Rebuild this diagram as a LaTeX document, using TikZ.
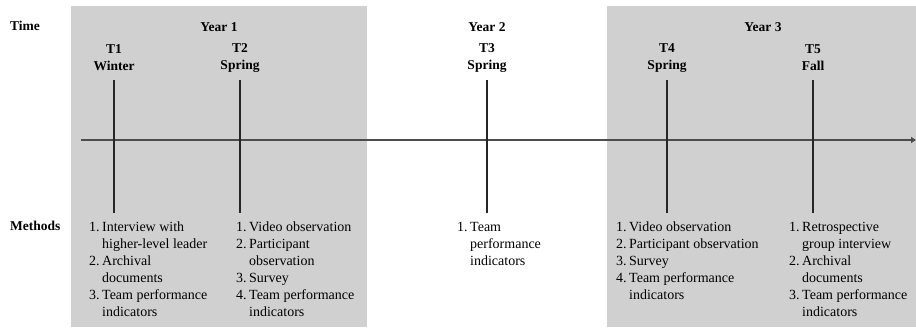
\documentclass[tikz,border=0pt]{standalone}
\usepackage{fontspec}
\setmainfont{Liberation Serif}
\usetikzlibrary{arrows.meta}
\begin{document}
\begin{tikzpicture}[x=1pt,y=-1pt,
  yearbox/.style={fill=boxgray,draw=none},
  head/.style={font=\fontsize{13.5}{17}\selectfont\bfseries,align=center,inner sep=0pt},
  rowlabel/.style={font=\fontsize{13.5}{17}\selectfont\bfseries,anchor=west,inner sep=0pt},
  methods/.style={font=\fontsize{14}{17}\selectfont,anchor=north west,inner sep=0pt},
  tick/.style={draw=black!85,line width=1.3pt},
  axis/.style={draw=black!70,line width=1.8pt,-{Triangle[length=5pt,width=6pt]}}]
\definecolor{boxgray}{RGB}{208,208,208}
\useasboundingbox (0,0) rectangle (916,327);
% year shading
\fill[yearbox] (71,6) rectangle (367,327);
\fill[yearbox] (607,6) rectangle (916,327);
% row labels
\node[rowlabel] (time) at (10,26) {Time};
\node[rowlabel] (meth) at (10,226) {Methods};
% years
\node[head] (y1) at (219,27) {Year 1};
\node[head] (y2) at (487,27) {Year 2};
\node[head] (y3) at (763,27) {Year 3};
% time points
\node[head] (t1) at (114,58) {T1\\Winter};
\node[head] (t2) at (240,58) {T2\\Spring};
\node[head] (t3) at (487,58) {T3\\Spring};
\node[head] (t4) at (667,58) {T4\\Spring};
\node[head] (t5) at (813,58) {T5\\Fall};
% axis
\coordinate (as) at (81,140);
\coordinate (ae) at (916,140);
\draw[axis] (as) -- (ae);
% ticks
\foreach \n/\x in {a/114,b/240,c/487,d/667,e/813}{
  \coordinate (top\n) at (\x,80);
  \coordinate (bot\n) at (\x,213);
  \draw[tick] (top\n) -- (bot\n);
}
% method lists
\node[methods] (m1) at (89,219) {\begin{tabular}{@{}l@{\hspace{2.5pt}}l@{}}
1. & Interview with\\
   & higher-level leader\\
2. & Archival\\
   & documents\\
3. & Team performance\\
   & indicators
\end{tabular}};
\node[methods] (m2) at (236,219) {\begin{tabular}{@{}l@{\hspace{2.5pt}}l@{}}
1. & Video observation\\
2. & Participant\\
   & observation\\
3. & Survey\\
4. & Team performance\\
   & indicators
\end{tabular}};
\node[methods] (m3) at (457,219) {\begin{tabular}{@{}l@{\hspace{2.5pt}}l@{}}
1. & Team\\
   & performance\\
   & indicators
\end{tabular}};
\node[methods] (m4) at (616,219) {\begin{tabular}{@{}l@{\hspace{2.5pt}}l@{}}
1. & Video observation\\
2. & Participant observation\\
3. & Survey\\
4. & Team performance\\
   & indicators
\end{tabular}};
\node[methods] (m5) at (789,219) {\begin{tabular}{@{}l@{\hspace{2.5pt}}l@{}}
1. & Retrospective\\
   & group interview\\
2. & Archival\\
   & documents\\
3. & Team performance\\
   & indicators
\end{tabular}};
\end{tikzpicture}
\end{document}
